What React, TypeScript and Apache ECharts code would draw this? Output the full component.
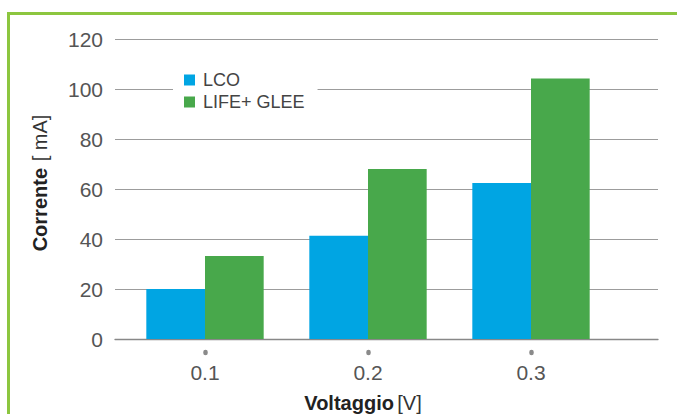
import React, { useEffect, useRef } from "react";
import * as echarts from "echarts";

const categories = ["0.1", "0.2", "0.3"];
const lcoValues = [20, 41.3, 62.4];
const lifeGleeValues = [33.2, 68, 104.2];
const seriesNames = ["LCO", "LIFE+ GLEE"];
const yMin = 0;
const yMax = 120;
const yInterval = 20;

const FONT = "'Liberation Sans', Arial, Helvetica, sans-serif";

export default function App() {
  const ref = useRef<HTMLDivElement>(null);
  useEffect(() => {
    if (!ref.current) return;
    const chart = echarts.init(ref.current, undefined, { renderer: "svg" });
    chart.setOption({
      animation: false,
      backgroundColor: "#ffffff",
      textStyle: { fontFamily: FONT },
      graphic: [
        { type: "rect", shape: { x: 7, y: 12, width: 670, height: 3 }, style: { fill: "#8cc63f" }, z: 10 },
        { type: "rect", shape: { x: 7, y: 12, width: 3, height: 402 }, style: { fill: "#8cc63f" }, z: 10 },
      ],
      legend: {
        orient: "vertical",
        left: 173,
        top: 63,
        padding: [6, 13, 6, 11],
        backgroundColor: "#ffffff",
        itemWidth: 11,
        itemHeight: 11,
        itemGap: 0,
        icon: "rect",
        data: seriesNames,
        textStyle: { fontFamily: FONT, fontSize: 18, lineHeight: 22, color: "#444", padding: [0, 0, 0, 3] },
        z: 5,
      },
      grid: [
        { left: 115, right: 19, top: 39, bottom: 75, outerBoundsMode: "none", containLabel: false },
        { left: 123.5, width: 489, top: 39, bottom: 75, outerBoundsMode: "none", containLabel: false },
      ],
      xAxis: [
        {
          gridIndex: 0,
          type: "value",
          min: 0,
          max: 1,
          axisLine: { show: true, onZero: false, lineStyle: { color: "#888", width: 1.3 } },
          axisTick: { show: false },
          axisLabel: { show: false },
          splitLine: { show: false },
        },
        {
          gridIndex: 1,
          type: "category",
          data: categories,
          offset: 13,
          axisLine: { show: false, onZero: false },
          axisTick: {
            show: true,
            alignWithLabel: true,
            length: 1,
            lineStyle: { color: "#8a8a8a", width: 4.5, cap: "round" },
          },
          axisLabel: { margin: 10, fontSize: 21, color: "#555", fontFamily: FONT },
          name: "{b|Voltaggio} {r|[V]}",
          nameLocation: "middle",
          nameGap: 41,
          nameTextStyle: {
            padding: [0, 10, 0, 0],
            rich: {
              b: { fontWeight: "bold", fontSize: 20, color: "#222", fontFamily: FONT },
              r: { fontSize: 20, color: "#333", fontFamily: FONT },
            },
          },
        },
      ],
      yAxis: [
        {
          gridIndex: 0,
          type: "value",
          min: yMin,
          max: yMax,
          interval: yInterval,
          axisLine: { show: false },
          axisTick: { show: false },
          axisLabel: { margin: 12, fontSize: 21, color: "#555", fontFamily: FONT },
          splitLine: { show: true, lineStyle: { color: "#9c9c9c", width: 1.2 } },
          name: "{b|Corrente}  {r|[ mA]}",
          nameLocation: "middle",
          nameGap: 65,
          nameTextStyle: {
            padding: [0, 0, 0, 12],
            rich: {
              b: { fontWeight: "bold", fontSize: 20, color: "#222", fontFamily: FONT },
              r: { fontSize: 20, color: "#333", fontFamily: FONT },
            },
          },
        },
        { gridIndex: 1, type: "value", min: yMin, max: yMax, interval: yInterval, show: false },
      ],
      series: [
        {
          name: seriesNames[0],
          type: "bar",
          xAxisIndex: 1,
          yAxisIndex: 1,
          data: lcoValues,
          barGap: "0%",
          barCategoryGap: "28%",
          itemStyle: { color: "#00a5e3" },
        },
        {
          name: seriesNames[1],
          type: "bar",
          xAxisIndex: 1,
          yAxisIndex: 1,
          data: lifeGleeValues,
          barGap: "0%",
          barCategoryGap: "28%",
          itemStyle: { color: "#48a84b" },
        },
      ],
    });
    return () => chart.dispose();
  }, []);
  return (
    <div
      ref={ref}
      style={{ position: "fixed", left: 0, top: 0, width: 677, height: 414 }}
    />
  );
}
